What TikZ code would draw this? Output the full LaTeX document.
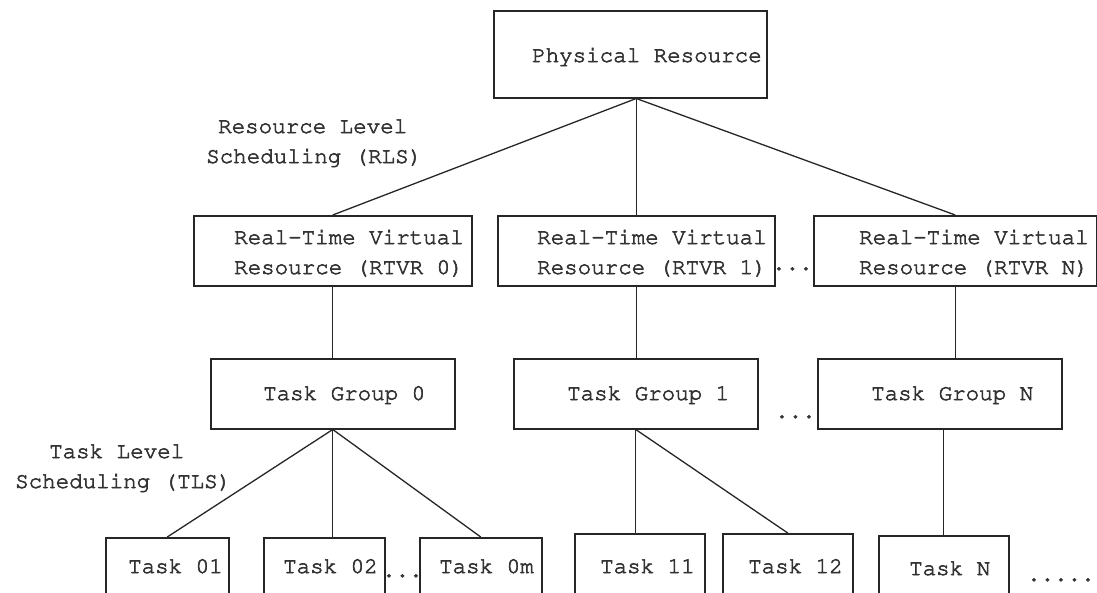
\documentclass[tikz,border=0pt]{standalone}
\usepackage[T1]{fontenc}
\newcommand\courierfont{\fontencoding{T1}\fontfamily{pcr}\fontsize{22.5}{29}\selectfont}
% typewriter text drawn with a thin outline, for a slightly heavier stroke
\newcommand\heavyon{\special{pdf:literal direct 2 Tr 0.6 w}}
\newcommand\heavyoff{\special{pdf:literal direct 0 Tr}}
\tikzset{
  box/.style={draw=black!85, line width=1.5pt, rectangle, inner sep=0pt},
  lbl/.style={anchor=base west, inner sep=0pt, text=black!80, font=\courierfont,
    execute at begin node=\heavyon, execute at end node=\heavyoff},
  link/.style={draw=black!85, line width=1.3pt},
}
% box from its top-left corner (#2,#3) to its bottom-right corner (#4,#5)
\newcommand\mybox[5]{\node[box, anchor=north west,
  minimum width={(#4-#2)*1pt}, minimum height={(#5-#3)*1pt}] (#1) at (#2,#3) {};}
\begin{document}
\begin{tikzpicture}[x=1pt, y=-1pt]
\clip (0,0) rectangle (1097,592);
\useasboundingbox (0,0) rectangle (1097,592);

% level 0: the physical resource
\mybox{phys}{493}{10}{766}{97}
\node[lbl] (phys-t) at (532,62) {Physical Resource};

% level 1: real-time virtual resources
\mybox{r0}{193}{215}{471}{285}
\mybox{r1}{497}{215}{774}{285}
\mybox{rN}{813}{215}{1096}{285}
\node[lbl] (r0-a) at (234,244) {Real-Time Virtual};
\node[lbl] (r0-b) at (234,274) {Resource (RTVR 0)};
\node[lbl] (r1-a) at (537,244) {Real-Time Virtual};
\node[lbl] (r1-b) at (537,274) {Resource (RTVR 1)};
\node[lbl] (rN-a) at (859,244) {Real-Time Virtual};
\node[lbl] (rN-b) at (859,274) {Resource (RTVR N)};
\node[lbl] (r-dots) at (772,270) {...};

% level 2: task groups
\mybox{g0}{210}{358}{454}{428}
\mybox{g1}{513}{358}{757}{428}
\mybox{gN}{817}{358}{1061}{428}
\node[lbl] (g0-t) at (263,400) {Task Group 0};
\node[lbl] (g1-t) at (567,400) {Task Group 1};
\node[lbl] (gN-t) at (871,400) {Task Group N};
\node[lbl] (g-dots) at (775,418) {...};

% level 3: tasks
\mybox{t01}{105}{537}{228}{610}
\mybox{t02}{263}{537}{384}{610}
\mybox{t0m}{419}{537}{541}{610}
\mybox{t11}{574}{533}{704}{610}
\mybox{t12}{722}{533}{852}{610}
\mybox{tN}{878}{535}{1008}{610}
\node[lbl] (t01-t) at (128,573) {Task 01};
\node[lbl] (t02-t) at (283,573) {Task 02};
\node[lbl] (t0m-t) at (439,573) {Task 0m};
\node[lbl] (t11-t) at (600,573) {Task 11};
\node[lbl] (t12-t) at (748,573) {Task 12};
\node[lbl] (tN-t) at (909,575) {Task N};
\node[lbl] (t0-dots) at (382,577) {...};
\node[lbl] (t-dots) at (1027,581) {.....};

% scheduling levels
\node[lbl] (rls-a) at (218,133) {Resource Level};
\node[lbl] (rls-b) at (206,163) {Scheduling (RLS)};
\node[lbl] (tls-a) at (49,458) {Task Level};
\node[lbl] (tls-b) at (15,488) {Scheduling (TLS)};

% resource level scheduling
\coordinate (hub) at (r1.north |- phys.south);
\draw[link] (hub) -- (r0.north);
\draw[link] (hub) -- (r1.north);
\draw[link] (hub) -- (rN.north);

% each virtual resource serves one task group
\draw[link] (r0.south) -- (r0.south |- g0.north);
\draw[link] (r1.south) -- (r1.south |- g1.north);
\draw[link] (rN.south) -- (rN.south |- gN.north);

% task level scheduling
\draw[link] (g0.south) -- (t01.north);
\draw[link] (g0.south) -- (g0.south |- t02.north);
\draw[link] (g0.south) -- (t0m.north);
\draw[link] (g1.south) -- (g1.south |- t11.north);
\draw[link] (g1.south) -- (t12.north);
\draw[link] (tN.north) -- (tN.north |- gN.south);
\end{tikzpicture}
\end{document}
